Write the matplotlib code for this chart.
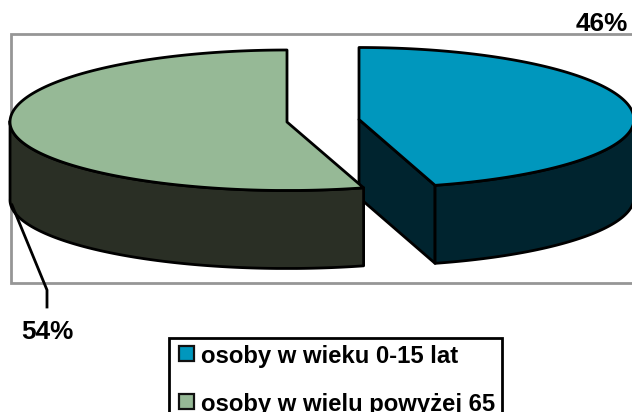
import numpy as np
import matplotlib

matplotlib.use("Agg")
import matplotlib.pyplot as plt
from matplotlib.patches import Polygon, Rectangle

plt.rcParams["font.family"] = ["Liberation Sans", "DejaVu Sans"]

labels = ["osoby w wieku 0-15 lat", "osoby w wielu powyżej 65"]
values = [46, 54]
pct_labels = ["46%", "54%"]
top_colors = ["#0097bd", "#96b996"]
wall_colors = ["#00242f", "#2a2f25"]

rx = [275, 277]
ry_back = 72
ry_front = 68.5
depth = 78
squash = 0.99
edge = 2
# slices are pulled apart, so each has its own centre
centers = [(359, 119.5), (287, 122)]


def rim(angles, cx, cy, rw):
    # slight squeeze towards the front, the view is not quite a flat ellipse
    a = np.where(angles <= 180, angles * squash, 360 - (360 - angles) * squash)
    a = np.radians(a)
    c = np.cos(a)
    return np.column_stack([cx + rw * np.sin(a), cy - np.where(c > 0, ry_back, ry_front) * c])


fig = plt.figure(figsize=(6.32, 4.12), dpi=100)
ax = fig.add_axes([0, 0, 1, 1])
ax.set_xlim(0, 632)
ax.set_ylim(412, 0)
ax.axis("off")

# plot area frame
ax.add_patch(Rectangle((10.5, 34), 640, 248.5, fc="white", ec="#969696", lw=2))

splits = np.cumsum([0] + values) / sum(values) * 360
down = np.array([0, depth])

for i in range(len(values)):
    rw = rx[i]
    cx, cy = centers[i]
    start, end = splits[i], splits[i + 1]
    arc = rim(np.linspace(start, end, 200), cx, cy, rw)
    apex = np.array([cx, cy])

    if i == 0:
        # cut face towards the viewer
        tip = arc[-1]
        face = np.array([apex, tip, tip + down, apex + down])
        ax.add_patch(Polygon(face, fc=wall_colors[i], ec="black", lw=edge, joinstyle="round"))

    # outer wall, only the front half shows
    w0 = max(start, 90)
    w1 = min(end, 270)
    wall = rim(np.linspace(w0, w1, 200), cx, cy, rw)
    wall = np.vstack([wall, (wall + down)[::-1]])
    ax.add_patch(Polygon(wall, fc=wall_colors[i], ec="black", lw=edge, joinstyle="round"))

    top = np.vstack([apex, arc])
    ax.add_patch(Polygon(top, fc=top_colors[i], ec="black", lw=edge, joinstyle="round"))

# leader line of the second label
ax.plot([12, 47, 47], [205, 290, 307], color="black", lw=edge)

ax.text(602, 24, pct_labels[0], fontsize=18.8, fontweight="bold", ha="center", va="center")
ax.text(47.5, 332, pct_labels[1], fontsize=18.8, fontweight="bold", ha="center", va="center")

# legend, cut off by the bottom of the picture
ax.add_patch(Rectangle((168.5, 337.5), 333, 100, fc="white", ec="black", lw=2))
key_tops = [346, 394]
for i in range(len(labels)):
    ax.add_patch(Rectangle((178.5, key_tops[i]), 15, 15, fc=top_colors[i], ec="#111111", lw=1.6))
    ax.text(201, key_tops[i] + 16.5, labels[i], fontsize=17.2, fontweight="bold", ha="left", va="baseline")

fig.savefig("out.png", dpi=100)
